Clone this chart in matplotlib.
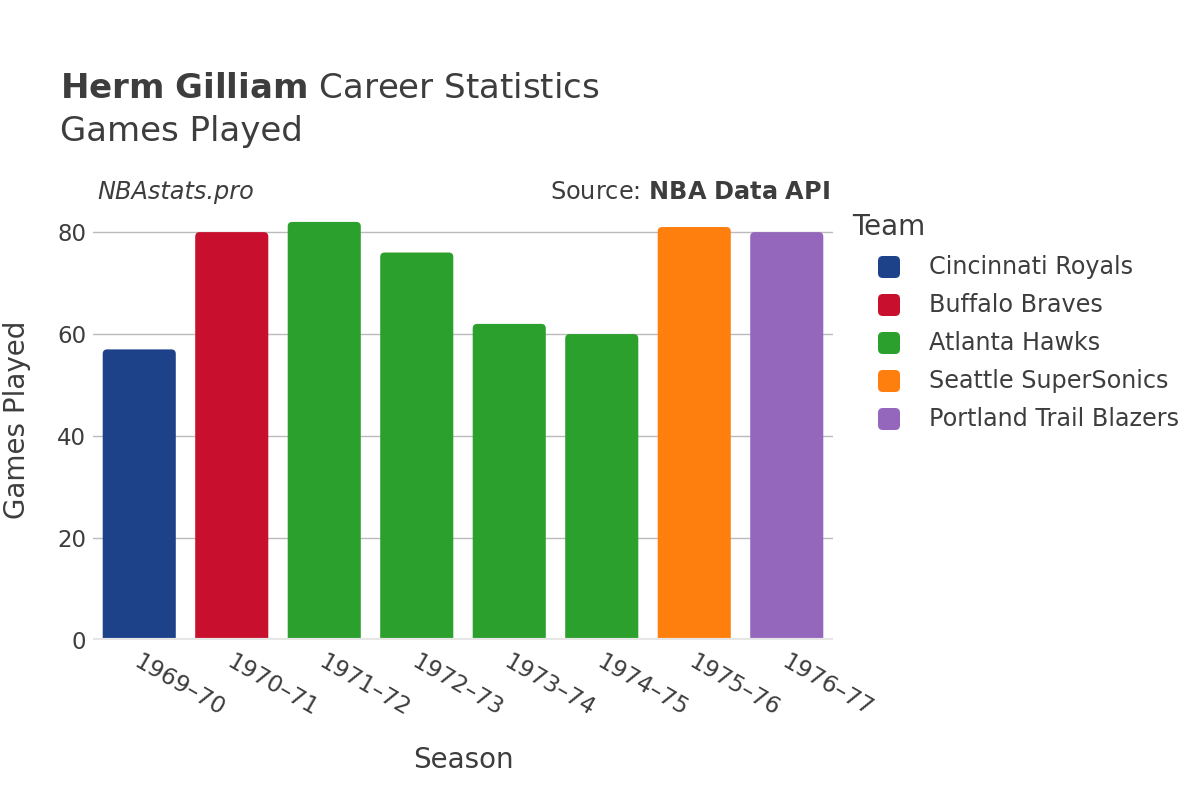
import matplotlib
matplotlib.use("Agg")
import matplotlib.pyplot as plt
from matplotlib.patches import FancyBboxPatch

seasons = ["1969\u201370", "1970\u201371", "1971\u201372", "1972\u201373",
           "1973\u201374", "1974\u201375", "1975\u201376", "1976\u201377"]
games = [57, 80, 82, 76, 62, 60, 81, 80]
teams = ["Cincinnati Royals", "Buffalo Braves", "Atlanta Hawks", "Atlanta Hawks",
         "Atlanta Hawks", "Atlanta Hawks", "Seattle SuperSonics", "Portland Trail Blazers"]
team_order = ["Cincinnati Royals", "Buffalo Braves", "Atlanta Hawks",
              "Seattle SuperSonics", "Portland Trail Blazers"]
team_colors = {
    "Cincinnati Royals": "#1d428a",
    "Buffalo Braves": "#c8102e",
    "Atlanta Hawks": "#2ca02c",
    "Seattle SuperSonics": "#ff7f0e",
    "Portland Trail Blazers": "#9467bd",
}
yticks = [0, 20, 40, 60, 80]

W, H = 1200, 800
fig = plt.figure(figsize=(12, 8), dpi=100)
plt.rcParams['font.family'] = ['DejaVu Sans']
TXT = "#3d3d3d"

def fx(x):
    return x / W

def fy(y):
    return 1 - y / H

L, R, T, B = 93, 833, 200, 640
ax = fig.add_axes([fx(L), fy(B), fx(R - L), (B - T) / H])
ymax = 86.3
ax.set_xlim(-0.5, len(seasons) - 0.5)
ax.set_ylim(0, ymax)

# rounded-top bars
bw = 0.79
xpx = (R - L) / len(seasons)
ypx = (B - T) / ymax
r_px = 4.5
rx = r_px / xpx
aspect = (1 / ypx) / (1 / xpx)
ry = rx * aspect
for i, (g, t) in enumerate(zip(games, teams)):
    p = FancyBboxPatch((i - bw / 2, -ry * 2), bw, g + ry * 2,
                       boxstyle=f"round,pad=0,rounding_size={rx}",
                       mutation_aspect=aspect,
                       facecolor=team_colors[t], edgecolor="none", zorder=3)
    ax.add_patch(p)

ax.set_yticks(yticks)
ax.set_yticklabels([str(v) for v in yticks])
ax.set_xticks(range(len(seasons)))
ax.set_xticklabels([])
ax.tick_params(axis='y', length=0, labelsize=16.5, colors=TXT, pad=5)
ax.tick_params(axis='x', length=0)
for v in yticks[1:]:
    ax.axhline(v, color="#bbbbbb", lw=1, zorder=1)
ax.axhline(0, color="#e6e6e6", lw=3, zorder=4)
for s in ax.spines.values():
    s.set_visible(False)

# x tick labels rotated
for i, s in enumerate(seasons):
    ax.text(i + 0.025, -0.023, s, transform=ax.get_xaxis_transform(),
            rotation=-30, ha='left', va='top', rotation_mode='anchor',
            fontsize=16.8, color=TXT)

# titles
fig.text(fx(60), fy(88), r"$\bf{Herm\ Gilliam}$" + " Career Statistics",
         fontsize=24.5, color=TXT, va='center', ha='left')
fig.text(fx(60), fy(132), "Games Played", fontsize=24.5, color=TXT,
         va='center', ha='left')
fig.text(fx(97), fy(192), "NBAstats.pro", fontsize=17.3, style='italic',
         color=TXT, va='center', ha='left')
fig.text(fx(830), fy(192), r"Source: $\bf{NBA\ Data\ API}$", fontsize=17.3,
         color=TXT, va='center', ha='right')

fig.text(fx(17), fy(420), "Games Played", fontsize=20, color=TXT,
         rotation=90, va='center', ha='center')
fig.text(fx(463), fy(760), "Season", fontsize=20, color=TXT,
         va='center', ha='center')

# legend
fig.text(fx(852), fy(227), "Team", fontsize=20, color=TXT, va='center', ha='left')
for k, t in enumerate(team_order):
    yy = 267 + 38 * k
    sq = FancyBboxPatch((fx(878), fy(yy + 11)), fx(22), 22 / H,
                        boxstyle="round,pad=0,rounding_size=0.004",
                        mutation_aspect=W / H,
                        transform=fig.transFigure, facecolor=team_colors[t],
                        edgecolor="none")
    fig.patches.append(sq)
    fig.text(fx(929), fy(yy), t, fontsize=17.2, color=TXT, va='center', ha='left')

fig.savefig("out.png", dpi=100, facecolor="white")
